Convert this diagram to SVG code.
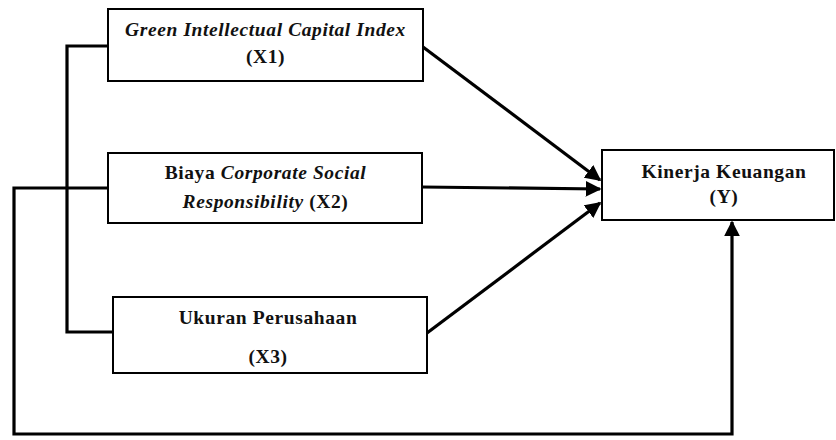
<svg xmlns="http://www.w3.org/2000/svg" width="836" height="440" viewBox="0 0 836 440">
<style>
.box{fill:#fff;stroke:#000;stroke-width:2}
.t{font-family:"Liberation Serif","Times New Roman",serif;font-weight:bold;font-size:19.5px;letter-spacing:0.6px;fill:#111;text-anchor:middle}
.i{font-style:italic}
.c{fill:none;stroke:#000;stroke-width:3.2;stroke-linejoin:miter}
</style>
<defs>
<marker id="ah" markerWidth="5" markerHeight="5" refX="4.5" refY="2.5" orient="auto" markerUnits="strokeWidth">
<path d="M0,0 L5,2.5 L0,5 Z" fill="#000"/>
</marker>
</defs>
<g id="connectors">
<polyline class="c" points="108,46 67,46 67,332 113,332"/>
<polyline class="c" points="108,188 14,188 14,434 732,434 732,222" marker-end="url(#ah)"/>
<line class="c" x1="423" y1="47" x2="600" y2="180" marker-end="url(#ah)"/>
<line class="c" x1="422" y1="187" x2="600" y2="189" marker-end="url(#ah)"/>
<line class="c" x1="427" y1="333" x2="600" y2="203" marker-end="url(#ah)"/>
</g>
<g id="x1">
<rect class="box" x="108" y="9" width="315" height="72"/>
<text class="t i" x="265.5" y="36">Green Intellectual Capital Index</text>
<text class="t" x="265.5" y="63">(X1)</text>
</g>
<g id="x2">
<rect class="box" x="108" y="153" width="314" height="70"/>
<text class="t" x="265.5" y="179">Biaya <tspan class="i">Corporate Social</tspan></text>
<text class="t" x="265.5" y="208"><tspan class="i">Responsibility</tspan> (X2)</text>
</g>
<g id="x3">
<rect class="box" x="113" y="297" width="314" height="76"/>
<text class="t" x="268" y="324">Ukuran Perusahaan</text>
<text class="t" x="268" y="363">(X3)</text>
</g>
<g id="y">
<rect class="box" x="602" y="150" width="232" height="70"/>
<text class="t" x="724" y="178">Kinerja Keuangan</text>
<text class="t" x="724" y="203">(Y)</text>
</g>
</svg>
